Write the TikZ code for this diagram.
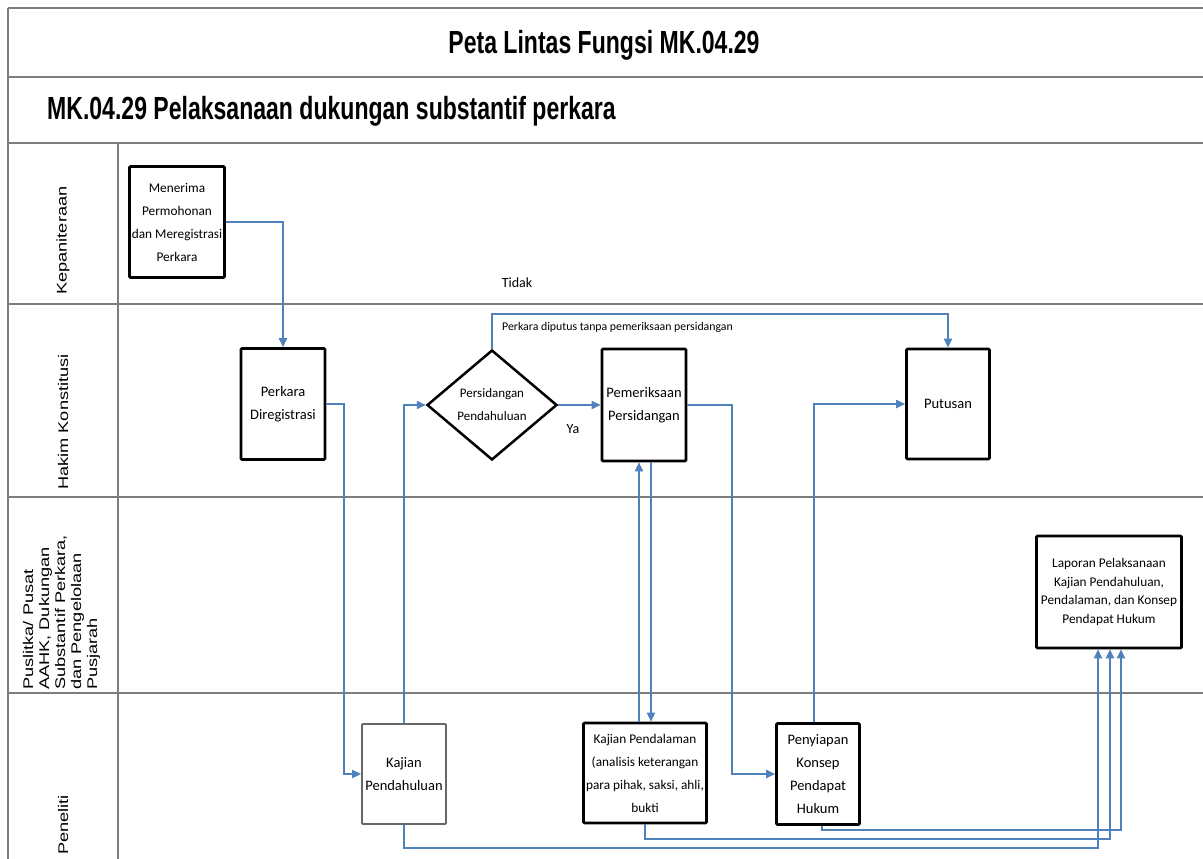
\documentclass[tikz,border=0pt]{standalone}
\usepackage{fontspec}
\setmainfont{Liberation Sans}
\newfontfamily\carl{Carlito}
\usetikzlibrary{arrows.meta,shapes.geometric,calc}
\definecolor{lineblue}{RGB}{79,129,189}
\definecolor{framegray}{RGB}{125,125,125}
\newcommand{\boxfont}{\carl\fontsize{14.5}{23}\selectfont}
\newcommand{\lanetext}[1]{\scalebox{1.3}[1]{\fontsize{14}{16}\selectfont #1}}
\begin{document}
\begin{tikzpicture}[x=1pt,y=-1pt,
  frame/.style={draw=framegray,line width=2.2pt},
  box/.style={draw=black,line width=2.6pt,rounded corners=1pt,inner sep=0pt,align=center,font=\boxfont,text=black},
  graybox/.style={box,draw=black!60,line width=1.8pt},
  conn/.style={draw=lineblue,line width=1.8pt,-{Triangle[length=9pt,width=8pt]}},
  lane/.style={rotate=90,anchor=west,inner sep=0pt,align=left},
  lbl/.style={inner sep=0pt,font=\carl\fontsize{14}{16}\selectfont}]
\useasboundingbox (0,0) rectangle (1203,859);
\fill[white] (0,0) rectangle (1203,859);
% frame
\draw[frame] (8,8) -- (1203,8);
\draw[frame] (8,77) -- (1203,77);
\draw[frame] (8,143) -- (1203,143);
\draw[frame] (8,304) -- (1203,304);
\draw[frame] (8,497) -- (1203,497);
\draw[frame] (8,693) -- (1203,693);
\draw[frame] (8,8) -- (8,859);
\draw[frame] (118,143) -- (118,859);
% titles
\node[inner sep=0pt] (title) at (604,45) {\scalebox{0.72}[1]{\fontsize{32}{36}\selectfont\bfseries Peta Lintas Fungsi MK.04.29}};
\node[inner sep=0pt,anchor=west] (subtitle) at (47,111) {\scalebox{0.72}[1]{\fontsize{32}{36}\selectfont\bfseries MK.04.29 Pelaksanaan dukungan substantif perkara}};
% lane labels
\node[lane] (l1) at (63,295) {\lanetext{Kepaniteraan}};
\node[lane] (l2) at (63,490) {\lanetext{Hakim Konstitusi}};
\node[lane] (l3) at (62,690) {\scalebox{1.3}[1]{\fontsize{14}{16}\selectfont\begin{tabular}{@{}l@{}}Puslitka/ Pusat\\AAHK, Dukungan\\Substantif Perkara,\\dan Pengelolaan\\Pusjarah\end{tabular}}};
\node[lane] (l4) at (63,855) {\lanetext{Peneliti}};
% process nodes
\node[box,minimum width=95pt,minimum height=111pt,font=\carl\fontsize{13.3}{23}\selectfont] (men) at (177,222) {Menerima\\Permohonan\\dan Meregistrasi\\Perkara};
\node[box,minimum width=84pt,minimum height=111pt] (perk) at (283,404) {Perkara\\Diregistrasi};
\node[graybox,minimum width=84pt,minimum height=100pt] (kp) at (404,774) {Kajian\\Pendahuluan};
\node[diamond,draw=black,line width=2.5pt,minimum width=130pt,minimum height=110pt,aspect=1.18,inner sep=0pt,align=center,font=\carl\fontsize{13}{23}\selectfont] (dia) at (492,405) {Persidangan\\Pendahuluan};
\node[box,minimum width=84pt,minimum height=112pt] (pem) at (644,405) {Pemeriksaan\\Persidangan};
\node[box,minimum width=83pt,minimum height=110pt] (put) at (948,404) {Putusan};
\node[box,minimum width=123pt,minimum height=100pt,font=\carl\fontsize{13.3}{23}\selectfont] (kd) at (645,773) {Kajian Pendalaman\\(analisis keterangan\\para pihak, saksi, ahli,\\bukti};
\node[box,minimum width=83pt,minimum height=101pt] (pen) at (818,774) {Penyiapan\\Konsep\\Pendapat\\Hukum};
\node[box,minimum width=145pt,minimum height=112pt,font=\carl\fontsize{13.3}{18.5}\selectfont] (lap) at (1109,592) {Laporan Pelaksanaan\\Kajian Pendahuluan,\\Pendalaman, dan Konsep\\Pendapat Hukum};
% labels
\node[lbl] (tidak) at (517,283) {Tidak};
\node[lbl] (ya) at (573,429) {Ya};
\node[lbl,anchor=west,font=\carl\fontsize{11.8}{14}\selectfont] (tanpa) at (502,327) {Perkara diputus tanpa pemeriksaan persidangan};
% helper coordinates
\coordinate (tline) at (948,314);
\coordinate (yb1) at (0,848);
\coordinate (yb2) at (0,839);
\coordinate (yb3) at (0,830);
% connectors
\draw[conn] (men.east) -| (perk.north);
\draw[conn] (perk.east) -- ++(18,0) |- (kp.west);
\draw[conn] (kp.north) |- (dia.west);
\draw[conn] (dia.east) -- (pem.west);
\draw[conn] (dia.north) |- (tline) -- (put.north);
\draw[conn] (pem.east) -- ++(45,0) |- (pen.west);
\draw[conn] ($(pen.north)+(-4,0)$) |- (put.west);
\draw[conn] ($(pem.south |- kd.north)+(-5,0)$) -- ($(pem.south)+(-5,0)$);
\draw[conn] ($(pem.south)+(7,0)$) -- ($(pem.south |- kd.north)+(7,0)$);
\draw[conn] (kp.south) |- ($(lap.south |- yb1)+(-11,0)$) -- ($(lap.south)+(-11,0)$);
\draw[conn] (kd.south) |- ($(lap.south |- yb2)+(1,0)$) -- ($(lap.south)+(1,0)$);
\draw[conn] ($(pen.south)+(4,0)$) |- ($(lap.south |- yb3)+(12,0)$) -- ($(lap.south)+(12,0)$);
\end{tikzpicture}
\end{document}
